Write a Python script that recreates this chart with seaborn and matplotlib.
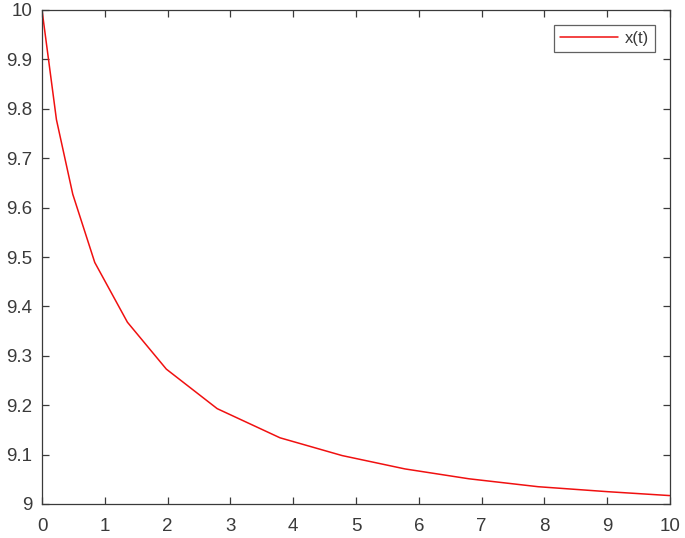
import matplotlib
matplotlib.use("Agg")
import matplotlib.pyplot as plt
import seaborn as sns
import pandas as pd

# values
t_values = [0, 0.23, 0.49, 0.84, 1.36, 1.98, 2.79, 3.79, 4.78, 5.78, 6.8, 7.9, 9.0, 10]
x_values = [10, 9.778, 9.627, 9.489, 9.368, 9.273, 9.193, 9.134, 9.098, 9.071,
            9.051, 9.035, 9.025, 9.017]
x_ticks = list(range(0, 11))
y_ticks = [9, 9.1, 9.2, 9.3, 9.4, 9.5, 9.6, 9.7, 9.8, 9.9, 10]
y_tick_labels = ["9", "9.1", "9.2", "9.3", "9.4", "9.5", "9.6", "9.7", "9.8", "9.9", "10"]

df = pd.DataFrame({"t": t_values, "x": x_values})

sns.set_theme(style="white")
plt.rcParams["font.family"] = ["Liberation Sans", "DejaVu Sans"]

fig = plt.figure(figsize=(6.85, 5.38), dpi=100)
ax = fig.add_axes([42 / 685, 1 - 504 / 538, 628 / 685, 494 / 538])

sns.lineplot(data=df, x="t", y="x", color="#f01010", linewidth=1.1, ax=ax,
             label="x(t)", sort=False)

ax.set_xlim(0, 10)
ax.set_ylim(9, 10)
ax.set_xticks(x_ticks)
ax.set_yticks(y_ticks)
ax.set_yticklabels(y_tick_labels)
ax.set_xlabel("")
ax.set_ylabel("")

axis_color = "#3a3a3a"
for spine in ax.spines.values():
    spine.set_visible(True)
    spine.set_color(axis_color)
    spine.set_linewidth(0.9)
ax.tick_params(direction="in", length=5, width=0.9, color=axis_color,
               labelcolor=axis_color, labelsize=13.5, top=True, right=True,
               bottom=True, left=True)
ax.tick_params(axis="x", pad=10)
ax.tick_params(axis="y", pad=7)

leg = ax.legend(loc="upper right", fontsize=12, frameon=True, fancybox=False,
                handlelength=3.5, borderaxespad=0.9, borderpad=0.35,
                handletextpad=0.4)
leg.get_frame().set_edgecolor(axis_color)
leg.get_frame().set_linewidth(0.9)
for txt in leg.get_texts():
    txt.set_color(axis_color)

fig.savefig("out.png", dpi=100, facecolor="white")
